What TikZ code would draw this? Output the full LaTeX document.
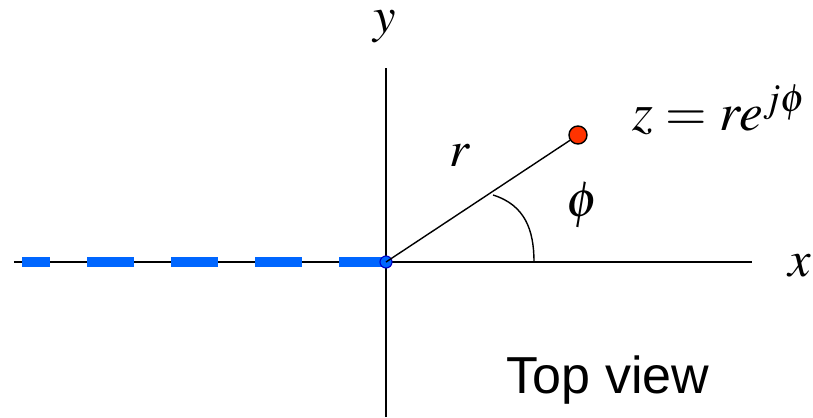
\documentclass[tikz,border=0pt]{standalone}
\usepackage{fontspec}
\usepackage{mathptmx}
\setsansfont{Liberation Sans}
\begin{document}
\begin{tikzpicture}[x=0.025cm, y=0.025cm, font=\fontsize{36}{40}\selectfont]

\useasboundingbox (-386,-155) rectangle (427,262);

\coordinate (O) at (0,0);
\coordinate (xl) at (-372,0);
\coordinate (xr) at (366,0);
\coordinate (yb) at (0,-155);
\coordinate (yt) at (0,194);
\coordinate (cut) at (-364,0);

% Ejes
	\draw[line width=2.1pt] (xl) -- (xr);
	\draw[line width=1.4pt] (yb) -- (yt);
	\node (xlab) at (414,-4) {$x$};
	\node[inner sep=0pt] (ylab) at (-1,235) {$y$};

% Semieje negativo
	\draw[color={rgb,255:red,0;green,102;blue,255}, line width=7.8pt,
		dash pattern=on 1.175cm off 0.925cm] (O) -- (cut);
	\fill[color={rgb,255:red,0;green,102;blue,255}, draw={rgb,255:red,0;green,0;blue,200}, line width=0.8pt] (O) circle (6);

% Punto z
	\node[circle, draw, fill={rgb,255:red,255;green,51;blue,0}, line width=1pt, minimum size=0.45cm, inner sep=0pt] (z) at (192,127) {};
	\draw[line width=1pt] (O) -- (z);
	\draw[line width=1pt] (107,67) .. controls (139,57) and (148,32) .. (148,0);

	\node (r) at (74,107) {$r$};
	\node (phi) at (197,57) {$\phi$};
	\node[anchor=west] (zlab) at (242,152) {\fontsize{38}{42}\selectfont$z = re^{j\phi}$};
	\node (top) at (222,-118) {\fontsize{37}{40}\selectfont\sffamily Top view};
\end{tikzpicture}
\end{document}
